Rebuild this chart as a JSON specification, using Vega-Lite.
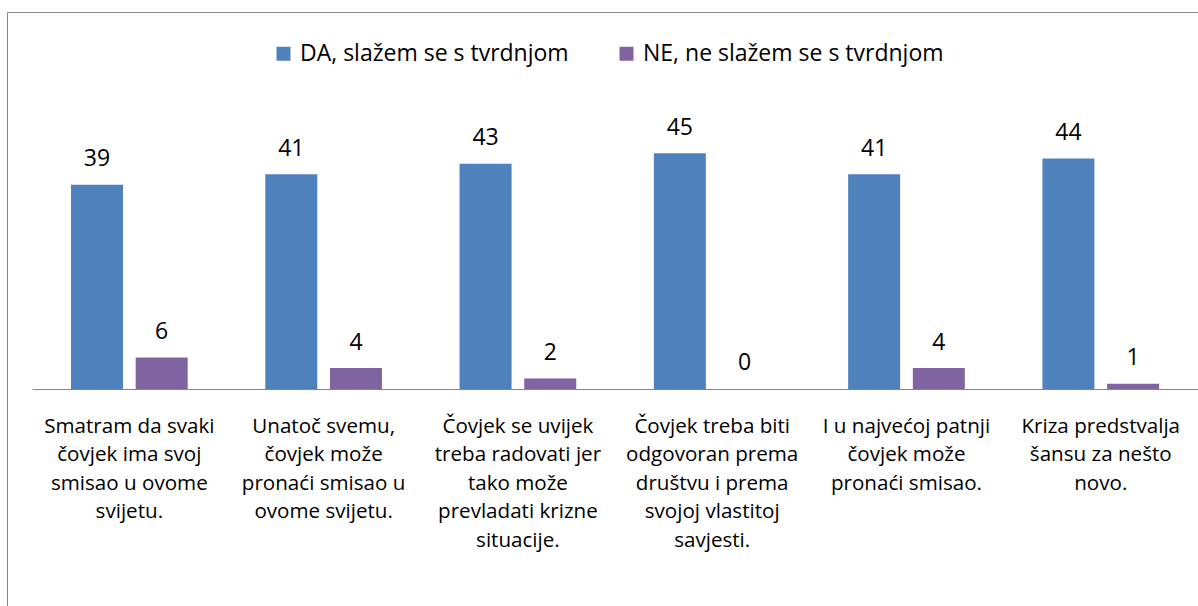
{
  "$schema": "https://vega.github.io/schema/vega-lite/v6.json",
  "width": 1200,
  "height": 600,
  "autosize": {"type": "none"},
  "padding": {"left": 7, "top": 12, "right": 0, "bottom": 0},
  "background": "white",
  "config": {
    "view": {"stroke": "#888888", "strokeWidth": 1},
    "font": "Open Sans"
  },
  "data": {
    "values": [
      {"cat": "Smatram da svaki\nčovjek ima svoj\nsmisao u ovome\nsvijetu.", "series": "DA, slažem se s tvrdnjom", "value": 39},
      {"cat": "Smatram da svaki\nčovjek ima svoj\nsmisao u ovome\nsvijetu.", "series": "NE, ne slažem se s tvrdnjom", "value": 6},
      {"cat": "Unatoč svemu,\nčovjek može\npronaći smisao u\novome svijetu.", "series": "DA, slažem se s tvrdnjom", "value": 41},
      {"cat": "Unatoč svemu,\nčovjek može\npronaći smisao u\novome svijetu.", "series": "NE, ne slažem se s tvrdnjom", "value": 4},
      {"cat": "Čovjek se uvijek\ntreba radovati jer\ntako može\nprevladati krizne\nsituacije.", "series": "DA, slažem se s tvrdnjom", "value": 43},
      {"cat": "Čovjek se uvijek\ntreba radovati jer\ntako može\nprevladati krizne\nsituacije.", "series": "NE, ne slažem se s tvrdnjom", "value": 2},
      {"cat": "Čovjek treba biti\nodgovoran prema\ndruštvu i prema\nsvojoj vlastitoj\nsavjesti.", "series": "DA, slažem se s tvrdnjom", "value": 45},
      {"cat": "Čovjek treba biti\nodgovoran prema\ndruštvu i prema\nsvojoj vlastitoj\nsavjesti.", "series": "NE, ne slažem se s tvrdnjom", "value": 0},
      {"cat": "I u najvećoj patnji\nčovjek može\npronaći smisao.", "series": "DA, slažem se s tvrdnjom", "value": 41},
      {"cat": "I u najvećoj patnji\nčovjek može\npronaći smisao.", "series": "NE, ne slažem se s tvrdnjom", "value": 4},
      {"cat": "Kriza predstvalja\nšansu za nešto\nnovo.", "series": "DA, slažem se s tvrdnjom", "value": 44},
      {"cat": "Kriza predstvalja\nšansu za nešto\nnovo.", "series": "NE, ne slažem se s tvrdnjom", "value": 1}
    ]
  },
  "encoding": {
    "x": {
      "field": "cat",
      "type": "nominal",
      "sort": null,
      "scale": {"range": [25.2, 1190.9], "paddingInner": 0, "paddingOuter": 0},
      "axis": {
        "orient": "bottom",
        "offset": -223,
        "title": null,
        "ticks": false,
        "tickSize": 0,
        "domainColor": "#868686",
        "domainWidth": 1,
        "labelAngle": 0,
        "labelFont": "Open Sans",
        "labelFontSize": 20.6,
        "labelColor": "#000000",
        "labelLineHeight": 28.5,
        "labelBaseline": "alphabetic",
        "labelPadding": 43,
        "labelLimit": 0,
        "labelOverlap": false,
        "labelBound": false,
        "labelFlush": false,
        "labelExpr": "split(datum.label, '\\n')"
      }
    },
    "xOffset": {
      "field": "series",
      "type": "nominal",
      "sort": ["DA, slažem se s tvrdnjom", "NE, ne slažem se s tvrdnjom"],
      "scale": {"paddingInner": 0.196, "paddingOuter": 0.6}
    },
    "y": {
      "field": "value",
      "type": "quantitative",
      "scale": {"domain": [-42.56, 71.95], "nice": false, "zero": false},
      "axis": null
    }
  },
  "layer": [
    {
      "mark": {"type": "bar"},
      "encoding": {
        "y2": {"datum": 0},
        "color": {
          "field": "series",
          "type": "nominal",
          "sort": ["DA, slažem se s tvrdnjom", "NE, ne slažem se s tvrdnjom"],
          "scale": {"range": ["#4F81BD", "#8064A2"]},
          "legend": {
            "title": null,
            "orient": "none",
            "direction": "horizontal",
            "legendX": 265,
            "legendY": 30,
            "padding": 0,
            "symbolType": "square",
            "symbolSize": 196,
            "symbolStrokeWidth": 0,
            "labelFont": "Open Sans",
            "labelFontSize": 23,
            "labelColor": "#000000",
            "labelOffset": 5,
            "columnPadding": 46,
            "labelLimit": 0
          }
        }
      }
    },
    {
      "mark": {"type": "text", "baseline": "alphabetic", "dy": -18.5, "font": "Open Sans", "fontSize": 23, "color": "#000000"},
      "encoding": {
        "text": {"field": "value", "type": "quantitative"}
      }
    }
  ]
}
